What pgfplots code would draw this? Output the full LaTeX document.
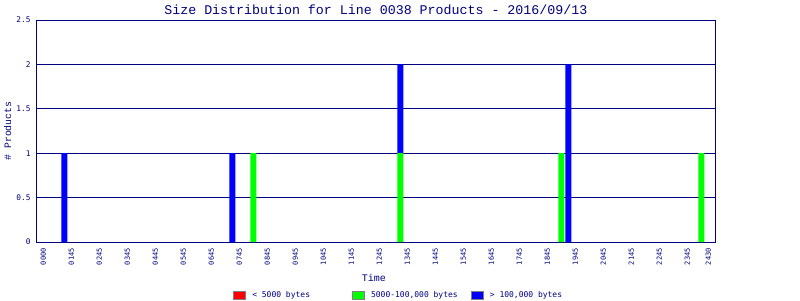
\documentclass[border=0pt]{standalone}
\usepackage{fontspec}
\setmainfont{Liberation Mono}
\newfontfamily\smallmono{DejaVu Sans Mono}
\usepackage{pgfplots}
\pgfplotsset{compat=1.18}
\definecolor{navy}{RGB}{0,0,128}
\definecolor{cred}{RGB}{255,0,0}
\definecolor{cgreen}{RGB}{0,255,0}
\definecolor{cblue}{RGB}{0,0,255}
\begin{document}
\begin{tikzpicture}
\useasboundingbox (-36.7pt,-58pt) rectangle (763.3pt,242pt);
\begin{axis}[
  at={(0pt,0pt)}, anchor=south west,
  scale only axis, width=678.3pt, height=222pt,
  xmin=-0.95, xmax=95.95, ymin=0, ymax=2.5,
  ybar stacked, bar width=6pt,
  axis line style={navy, line width=0.8pt},
  ymajorgrids, grid style={navy, line width=0.8pt},
  major tick length=0pt,
  /pgf/number format/assume math mode=true,
  ytick={0,0.5,1,1.5,2,2.5},
  yticklabel style={font=\smallmono\fontsize{7.8}{9}\selectfont, text=navy, inner sep=0pt},
  yticklabel shift=6pt,
  xtick={0,4,8,12,16,20,24,28,32,36,40,44,48,52,56,60,64,68,72,76,80,84,88,92,95},
  xticklabels={0000,0145,0245,0345,0445,0545,0645,0745,0845,0945,1045,1145,1245,1345,1445,1545,1645,1745,1845,1945,2045,2145,2245,2345,2430},
  xticklabel style={rotate=90, anchor=east, font=\smallmono\fontsize{7}{8}\selectfont, text=navy, inner sep=0pt},
  xticklabel shift=6pt,
  title={Size Distribution for Line 0038 Products - 2016/09/13},
  title style={at={(axis description cs:0.5,1)}, anchor=base, yshift=0pt, font=\fontsize{13.3}{15}\selectfont, text=navy},
  xlabel={Time},
  xlabel style={at={(axis description cs:0.497,-0.162)}, anchor=center, font=\fontsize{10}{12}\selectfont, text=navy},
  ylabel={\# Products},
  ylabel style={at={(axis description cs:-0.043,0.5)}, anchor=center, rotate=0, font=\fontsize{9.8}{12}\selectfont, text=navy},
  legend columns=3,
  legend image code/.code={\draw[#1, draw=gray, line width=0.8pt] (0pt,-3.8pt) rectangle (12pt,3.8pt);},
  legend style={at={(axis description cs:0.2898,-0.241)}, anchor=west, draw=none, fill=none, inner sep=0pt,
    font=\smallmono\fontsize{8}{9}\selectfont, text=navy, cells={anchor=west},
    /tikz/every odd column/.append style={column sep=4pt},
    /tikz/every even column/.append style={column sep=0pt}},
]
\addlegendimage{fill=cred}
\addlegendentry{\makebox[98pt][l]{< 5000 bytes}}
\addplot[fill=cgreen, draw=none] coordinates {(3,0) (27,0) (30,1) (51,1) (74,1) (75,0) (94,1)};
\addlegendentry{\makebox[98pt][l]{5000-100,000 bytes}}
\addplot[fill=cblue, draw=none] coordinates {(3,1) (27,1) (30,0) (51,1) (74,0) (75,2) (94,0)};
\addlegendentry{\makebox[98pt][l]{> 100,000 bytes}}
\end{axis}
\end{tikzpicture}
\end{document}
